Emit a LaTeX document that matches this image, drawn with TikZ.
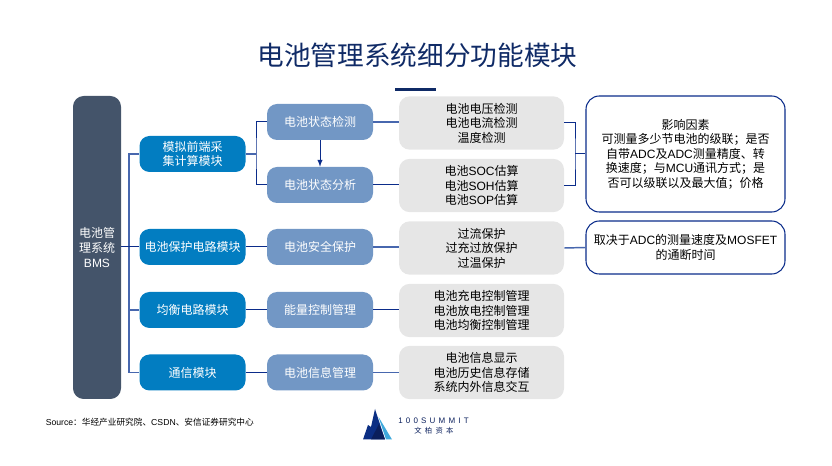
\documentclass[tikz,border=0pt]{standalone}
\usepackage{fontspec}
\setmainfont{Noto Sans CJK SC}
\newfontfamily\latinfont{Liberation Sans}
\newfontfamily\logofont[LetterSpace=40]{Liberation Sans}
\newfontfamily\logocjk[LetterSpace=45]{Noto Sans CJK SC}
\newcommand\la[1]{{\latinfont #1}}
\definecolor{bmsgrey}{HTML}{44546A}
\definecolor{modblue}{HTML}{027DC1}
\definecolor{statblue}{HTML}{7297C5}
\definecolor{itemgrey}{HTML}{E6E6E6}
\definecolor{navyline}{HTML}{0B2C8A}
\definecolor{midline}{HTML}{4767AE}
\definecolor{titlenavy}{HTML}{0F2A66}
\definecolor{logolight}{HTML}{3FA9DC}
\definecolor{logomid}{HTML}{0B2E83}
\definecolor{logodark}{HTML}{0A1F5C}
\tikzset{
	base/.style={inner sep=0pt,align=center,font=\fontsize{9}{10.9}\selectfont},
	bmsbox/.style={base,fill=bmsgrey,text=white,rounded corners=8pt,minimum width=36pt,minimum height=227.25pt},
	modbox/.style={base,fill=modblue,text=white,rounded corners=7.5pt,minimum width=79.5pt,minimum height=27pt},
	statbox/.style={base,fill=statblue,text=white,rounded corners=7.5pt,minimum width=79.5pt,minimum height=27pt},
	itembox/.style={base,fill=itemgrey,text=black,rounded corners=8pt,minimum width=123.75pt,minimum height=40pt},
	notebox/.style={base,draw=navyline,line width=0.8pt,text=black,rounded corners=10pt,minimum width=149.25pt},
	navyconn/.style={draw=navyline,line width=0.75pt},
	midconn/.style={draw=midline,line width=1.1pt},
}
\begin{document}
\begin{tikzpicture}[x=0.75pt,y=-0.75pt]
	\useasboundingbox (0,0) rectangle (832,466);
	% title
	\node[inner sep=0pt,text=titlenavy,font=\fontsize{20}{24}\selectfont] (title) at (417.5,55) {电池管理系统细分功能模块};
	\fill[titlenavy] (395,88) rectangle (436,91);
	% left column
	\node[bmsbox] (bms) at (97,247.5) {电池管\\理系统\\\la{BMS}};
	\node[modbox] (modA) at (192.5,154) {模拟前端采\\集计算模块};
	\node[modbox] (modB) at (192.5,247) {电池保护电路模块};
	\node[modbox] (modC) at (192.5,310) {均衡电路模块};
	\node[modbox] (modD) at (192.5,372.5) {通信模块};
	% second column
	\node[statbox] (statA) at (320,122) {电池状态检测};
	\node[statbox] (statB) at (320,185) {电池状态分析};
	\node[statbox] (statC) at (320,247) {电池安全保护};
	\node[statbox] (statD) at (320,310) {能量控制管理};
	\node[statbox] (statE) at (320,372.5) {电池信息管理};
	% third column
	\node[itembox] (itemA) at (481.5,123) {电池电压检测\\电池电流检测\\温度检测};
	\node[itembox] (itemB) at (481.5,185.5) {电池\la{SOC}估算\\电池\la{SOH}估算\\电池\la{SOP}估算};
	\node[itembox] (itemC) at (481.5,248) {过流保护\\过充过放保护\\过温保护};
	\node[itembox] (itemD) at (481.5,310.5) {电池充电控制管理\\电池放电控制管理\\电池均衡控制管理};
	\node[itembox] (itemE) at (481.5,372.5) {电池信息显示\\电池历史信息存储\\系统内外信息交互};
	% notes
	\node[notebox,minimum height=87pt] (noteA) at (685.5,154) {影响因素\\可测量多少节电池的级联；是否\\自带\la{ADC}及\la{ADC}测量精度、转\\换速度；与\la{MCU}通讯方式；是\\否可以级联以及最大值；价格};
	\node[notebox,minimum height=39.75pt] (noteB) at (685.5,247.5) {取决于\la{ADC}的测量速度及\la{MOSFET}\\的通断时间};
	% connectors
	\coordinate (trunk) at (129,247);
	\coordinate (forkA) at (256,154);
	\coordinate (forkB) at (575,154);
	\draw[midconn] (modA.west) -- (trunk |- modA.west) -- (trunk |- modD.west) -- (modD.west);
	\draw[midconn] (trunk |- modC.west) -- (modC.west);
	\draw[navyconn] (bms.east |- trunk) -- (modB.west);
	\draw[midconn] (modA.east) -- (forkA);
	\draw[navyconn] (statA.west) -| (forkA) |- (statB.west);
	\draw[navyconn,-latex] (statA.south) -- (statB.north);
	\draw[navyconn] (modB.east) -- (statC.west);
	\draw[navyconn] (modC.east) -- (statD.west);
	\draw[navyconn] (modD.east) -- (statE.west);
	\draw[midconn] (statA.east) -- (statA.east -| itemA.west);
	\draw[navyconn] (statB.east) -- (statB.east -| itemB.west);
	\draw[midconn] (statC.east) -- (statC.east -| itemC.west);
	\draw[navyconn] (statD.east) -- (statD.east -| itemD.west);
	\draw[midconn] (statE.east) -- (statE.east -| itemE.west);
	\draw[navyconn] (itemA.east) -| (forkB) |- (itemB.east);
	\draw[navyconn] (forkB) -- (noteA.west);
	\draw[midconn] (itemC.east) -- (noteB.west);
	% source and logo
	\node[inner sep=0pt,anchor=west,font=\fontsize{6.5}{8}\selectfont] (source) at (45.5,422) {\la{Source}：华经产业研究院、\la{CSDN}、安信证券研究中心};
	\fill[logomid] (363,439.5) -- (368,425) -- (371,427) -- (375,409) -- (385,439.5) -- cycle;
	\fill[logolight] (378.5,417) -- (381,421) -- (392,439.5) -- (386,439.5) -- cycle;
	\fill[logodark] (371,439.5) -- (379,424) -- (385,439.5) -- cycle;
	\node[inner sep=0pt,anchor=west,text=logodark,font=\logofont\fontsize{6}{7}\selectfont] (logotext) at (398,420.5) {100SUMMIT};
	\node[inner sep=0pt,anchor=west,text=logodark,font=\logocjk\fontsize{5.5}{7}\selectfont] (logoname) at (414,431) {文柏资本};
\end{tikzpicture}
\end{document}
